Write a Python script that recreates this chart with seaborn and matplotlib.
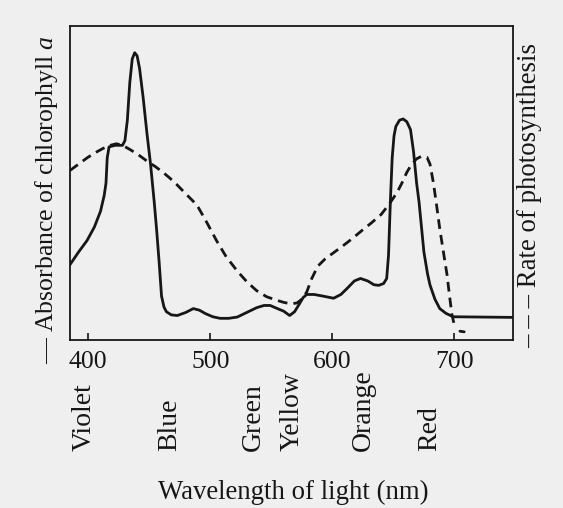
import matplotlib
matplotlib.use("Agg")
import matplotlib.pyplot as plt
import matplotlib.transforms as mtransforms
import seaborn as sns
import pandas as pd

# Absorbance of chlorophyll a (solid line), relative units
abs_wl = [385, 392, 399, 405, 410, 413, 414.5, 415.5, 417, 422, 428, 430, 432, 434, 436, 438,
          440, 442, 445, 448, 451, 454, 456, 458, 460, 462, 464, 468, 473, 480, 486, 491,
          496, 502, 508, 515, 522, 530, 538, 544, 549, 555, 560, 565, 569, 573, 576, 579,
          585, 592, 601, 607, 612, 618, 623, 629, 634, 638, 642, 644.5, 646, 647.5, 649,
          650.5, 652, 655, 658, 661, 664, 666.5, 669, 671, 673, 675, 678, 680, 684, 688,
          693, 699, 748]
abs_val = [0.24, 0.28, 0.317, 0.36, 0.41, 0.46, 0.50, 0.58, 0.615, 0.62, 0.62, 0.635, 0.70, 0.82,
           0.895, 0.915, 0.905, 0.865, 0.77, 0.66, 0.56, 0.44, 0.35, 0.25, 0.14, 0.105, 0.09,
           0.08, 0.078, 0.088, 0.10, 0.095, 0.084, 0.074, 0.069, 0.069, 0.073, 0.088, 0.103,
           0.11, 0.11, 0.1, 0.092, 0.078, 0.09, 0.115, 0.135, 0.145, 0.145, 0.14, 0.133, 0.145,
           0.164, 0.188, 0.196, 0.188, 0.176, 0.174, 0.18, 0.196, 0.27, 0.44, 0.58, 0.65,
           0.68, 0.70, 0.704, 0.695, 0.67, 0.6, 0.5, 0.44, 0.36, 0.28, 0.21, 0.175, 0.13,
           0.10, 0.085, 0.074, 0.072]

# Rate of photosynthesis (dashed line), relative units
rate_wl = [385, 392, 399, 405, 412, 418, 423, 428, 434, 441, 448, 455, 461.5, 467, 472.5,
           480, 489, 497, 505, 513, 522, 530, 538, 546, 554, 560, 566, 571, 575, 579, 583,
           588, 594, 601, 608, 616, 624, 632, 640, 647, 653, 657, 661, 665, 669, 673, 677.5,
           680, 682.8, 685, 688, 691, 694, 696, 698, 699.6, 701]
rate_val = [0.54, 0.56, 0.58, 0.595, 0.61, 0.62, 0.625, 0.62, 0.607, 0.59, 0.57, 0.552,
            0.533, 0.515, 0.495, 0.465, 0.43, 0.375, 0.317, 0.265, 0.22, 0.185, 0.157, 0.138,
            0.127, 0.12, 0.115, 0.118, 0.13, 0.153, 0.195, 0.235, 0.258, 0.278, 0.298, 0.322,
            0.348, 0.373, 0.40, 0.435, 0.47, 0.5, 0.534, 0.56, 0.577, 0.585, 0.582, 0.56,
            0.50, 0.44, 0.354, 0.28, 0.206, 0.14, 0.08, 0.053, 0.04]
rate_tail_wl = [704.5, 708]
rate_tail_val = [0.028, 0.026]

xticks = [400, 500, 600, 700]
band_names = ["Violet", "Blue", "Green", "Yellow", "Orange", "Red"]
band_wl = [397, 467, 535, 567, 625, 680]

ink = "#161616"
paper = "#efefef"

sns.set_theme(style="white")
plt.rcParams["font.family"] = ["Liberation Serif", "DejaVu Serif"]
plt.rcParams["mathtext.fontset"] = "custom"
plt.rcParams["mathtext.it"] = "Liberation Serif:italic"
plt.rcParams["mathtext.rm"] = "Liberation Serif"

fig = plt.figure(figsize=(5.63, 5.08), dpi=100, facecolor=paper)
ax = fig.add_axes([70 / 563, 1 - 340 / 508, (513 - 70) / 563, (340 - 26) / 508])
ax.set_facecolor(paper)

df_abs = pd.DataFrame({"wl": abs_wl, "val": abs_val})
df_rate = pd.DataFrame({"wl": rate_wl, "val": rate_val})
df_tail = pd.DataFrame({"wl": rate_tail_wl, "val": rate_tail_val})

sns.lineplot(data=df_abs, x="wl", y="val", ax=ax, color=ink, lw=2.0, sort=False)
sns.lineplot(data=df_rate, x="wl", y="val", ax=ax, color=ink, lw=2.0, sort=False,
             dashes=False, linestyle=(0, (3.5, 2.2)))
sns.lineplot(data=df_tail, x="wl", y="val", ax=ax, color=ink, lw=2.0, sort=False)

ax.set_xlim(385, 748)
ax.set_ylim(0, 1)
ax.set_xticks(xticks)
ax.set_xticklabels([str(t) for t in xticks])
ax.set_yticks([])
ax.set_xlabel("")
ax.set_ylabel("")
ax.tick_params(axis="x", direction="in", length=5, width=1.2, color=ink,
               labelsize=18.5, labelcolor=ink, pad=8, bottom=True)
for s in ax.spines.values():
    s.set_visible(True)
    s.set_color(ink)
    s.set_linewidth(1.3)

trans = mtransforms.blended_transform_factory(ax.transData, fig.transFigure)
for name, wl in zip(band_names, band_wl):
    ax.text(wl, 1 - 451 / 508, name, transform=trans, rotation=90, ha="center",
            va="bottom", fontsize=20, color=ink, clip_on=False)

fig.text(293 / 563, 1 - 492 / 508, "Wavelength of light (nm)", ha="center", va="center",
         fontsize=19.3, color=ink)
fig.text(47 / 563, 1 - 200 / 508, r"— Absorbance of chlorophyll $\mathit{a}$", rotation=90,
         ha="center", va="center", fontsize=18.5, color=ink)
fig.text(530 / 563, 1 - 195 / 508, "– – – Rate of photosynthesis", rotation=90,
         ha="center", va="center", fontsize=19.3, color=ink)

fig.savefig("out.png", dpi=100, facecolor=paper)
